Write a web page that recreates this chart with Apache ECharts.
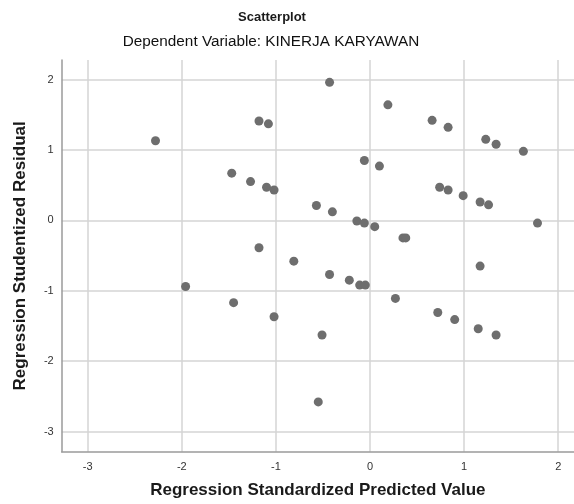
<!DOCTYPE html>
<html>
<head>
<meta charset="utf-8">
<script src="https://cdn.jsdelivr.net/npm/echarts@6/dist/echarts.min.js"></script>
<style>html,body{margin:0;padding:0;background:#fff}#c{width:574px;height:504px}</style>
</head>
<body>
<div id="c"></div>
<script>
var predicted = [-2.28,-1.18,-1.08,-1.47,-1.27,-1.10,-1.02,-1.18,-0.43,0.19,0.66,0.83,1.23,1.34,1.63,-0.06,0.10,0.74,0.83,0.99,1.17,1.26,-0.57,-0.40,-0.14,-0.06,0.05,1.78,0.35,0.38,1.17,-0.43,-0.22,-0.11,-0.05,0.27,0.72,0.90,1.15,1.34,-0.51,-0.55,-0.81,-1.96,-1.45,-1.02];
var residual = [1.13,1.41,1.37,0.67,0.55,0.47,0.43,-0.39,1.96,1.64,1.42,1.32,1.15,1.08,0.98,0.85,0.77,0.47,0.43,0.35,0.26,0.22,0.21,0.12,-0.01,-0.04,-0.09,-0.04,-0.25,-0.25,-0.65,-0.77,-0.85,-0.92,-0.92,-1.11,-1.31,-1.41,-1.54,-1.63,-1.63,-2.58,-0.58,-0.94,-1.17,-1.37];
var xTicks = [-3,-2,-1,0,1,2];
var yTicks = [-3,-2,-1,0,1,2];

var pts = predicted.map(function(v,i){return [v, residual[i]];});
var chart = echarts.init(document.getElementById('c'), null, {renderer:'canvas'});
var fontFam = '"Liberation Sans", Arial, sans-serif';
chart.setOption({
  animation:false,
  backgroundColor:'#fff',
  title:[
    {text:'Scatterplot', left:267, top:6, textAlign:'center',
     textStyle:{fontFamily:fontFam, fontSize:13, fontWeight:'bold', color:'#1a1a1a'}},
    {text:'Dependent Variable: KINERJA KARYAWAN', left:266, top:29, textAlign:'center',
     textStyle:{fontFamily:fontFam, fontSize:15.3, fontWeight:'normal', color:'#111'}}
  ],
  grid:{left:61.7, right:0, top:60, bottom:52.3, containLabel:false},
  xAxis:{
    type:'value', min:-3.277, max:2.168,
    name:'Regression Standardized Predicted Value', nameLocation:'middle', nameGap:30,
    nameTextStyle:{fontFamily:fontFam, fontSize:17, fontWeight:'bold', color:'#1a1a1a'},
    axisLine:{show:true, onZero:false, lineStyle:{color:'#9a9a9a', width:1.5}},
    axisTick:{show:false, customValues:xTicks},
    axisLabel:{customValues:xTicks, fontFamily:fontFam, fontSize:11, color:'#333', margin:10},
    splitLine:{show:true, lineStyle:{color:'#d4d4d4', width:1.5}}
  },
  yAxis:{
    type:'value', min:-3.287, max:2.277,
    name:'Regression Studentized Residual', nameLocation:'middle', nameGap:33,
    nameTextStyle:{fontFamily:fontFam, fontSize:17, fontWeight:'bold', color:'#1a1a1a'},
    axisLine:{show:true, onZero:false, lineStyle:{color:'#9a9a9a', width:1.5}},
    axisTick:{show:false, customValues:yTicks},
    axisLabel:{customValues:yTicks, fontFamily:fontFam, fontSize:11, color:'#333', margin:8},
    splitLine:{show:true, lineStyle:{color:'#d4d4d4', width:1.5}}
  },
  series:[{
    type:'scatter', data:pts, symbol:'circle', symbolSize:9,
    itemStyle:{color:'#6e6e6e', opacity:1}
  }]
});
</script>
</body>
</html>
